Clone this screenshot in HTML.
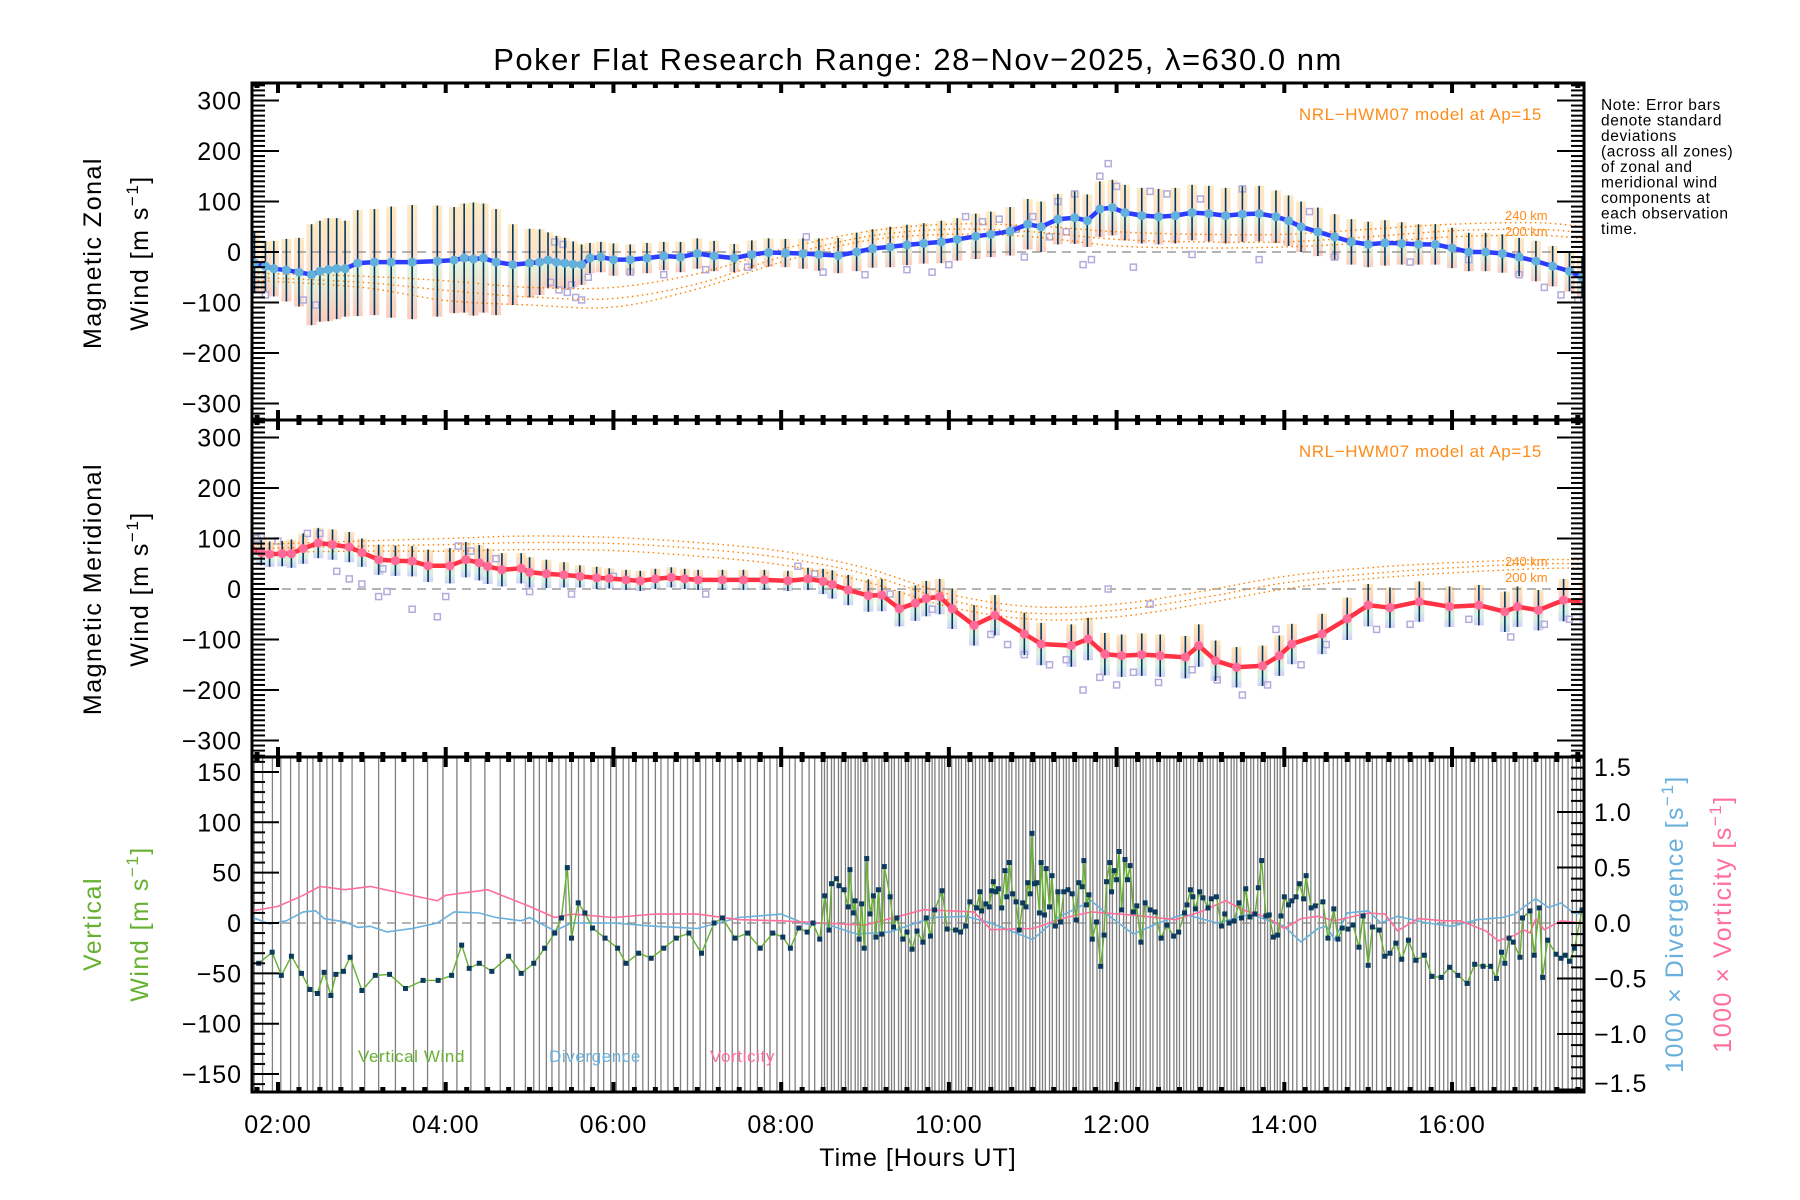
<!DOCTYPE html>
<html><head><meta charset="utf-8"><title>Poker Flat Research Range winds</title>
<style>
html,body{margin:0;padding:0;background:#fff;}
svg{display:block;}
text{font-family:"Liberation Sans",sans-serif;}
</style></head>
<body>
<svg id="chart" xmlns="http://www.w3.org/2000/svg" width="1800" height="1200" viewBox="0 0 1800 1200">
<defs>
<clipPath id="c1"><rect x="252" y="83" width="1332" height="337"/></clipPath>
<clipPath id="c2"><rect x="252" y="420" width="1332" height="337"/></clipPath>
<clipPath id="c3"><rect x="252" y="757" width="1332" height="335"/></clipPath>
<linearGradient id="g1" x1="0" y1="0" x2="0" y2="1"><stop offset="0" stop-color="#fde7b6"/><stop offset="0.45" stop-color="#fcd9c4"/><stop offset="0.55" stop-color="#dff2d6"/><stop offset="1" stop-color="#fbc2b2"/></linearGradient>
<linearGradient id="g2" x1="0" y1="0" x2="0" y2="1"><stop offset="0" stop-color="#fde4b0"/><stop offset="0.4" stop-color="#fbc7b8"/><stop offset="0.72" stop-color="#d2f0dc"/><stop offset="1" stop-color="#c9c8f4"/></linearGradient>
</defs>
<rect x="0" y="0" width="1800" height="1200" fill="#fff"/>
<text x="918" y="70" font-size="31" letter-spacing="1.5" text-anchor="middle">Poker Flat Research Range: 28−Nov−2025, λ=630.0 nm</text>
<g id="layer"></g>
<text x="1542" y="120" font-size="17" fill="#ff8c1a" letter-spacing="0.6" text-anchor="end">NRL−HWM07 model at Ap=15</text>
<text x="1542" y="457" font-size="17" fill="#ff8c1a" letter-spacing="0.6" text-anchor="end">NRL−HWM07 model at Ap=15</text>
<text x="1505" y="220" font-size="13" fill="#ff8c1a">240 km</text>
<text x="1505" y="236" font-size="13" fill="#ff8c1a">200 km</text>
<text x="1505" y="566" font-size="13" fill="#ff8c1a">240 km</text>
<text x="1505" y="582" font-size="13" fill="#ff8c1a">200 km</text>
<g font-size="15.5" letter-spacing="0.6">
<text x="1601" y="110">Note: Error bars</text>
<text x="1601" y="125.5">denote standard</text>
<text x="1601" y="141">deviations</text>
<text x="1601" y="156.5">(across all zones)</text>
<text x="1601" y="172">of zonal and</text>
<text x="1601" y="187.5">meridional wind</text>
<text x="1601" y="203">components at</text>
<text x="1601" y="218.5">each observation</text>
<text x="1601" y="234">time.</text>
</g>
<text transform="translate(101,253) rotate(-90)" font-size="25" letter-spacing="1.5" text-anchor="middle">Magnetic Zonal</text>
<text transform="translate(148,253) rotate(-90)" font-size="25" letter-spacing="1.5" text-anchor="middle">Wind [m s<tspan dy="-10" font-size="17">−1</tspan><tspan dy="10">]</tspan></text>
<text transform="translate(101,589) rotate(-90)" font-size="25" letter-spacing="1.5" text-anchor="middle">Magnetic Meridional</text>
<text transform="translate(148,589) rotate(-90)" font-size="25" letter-spacing="1.5" text-anchor="middle">Wind [m s<tspan dy="-10" font-size="17">−1</tspan><tspan dy="10">]</tspan></text>
<text transform="translate(101,924) rotate(-90)" font-size="25" letter-spacing="1.5" fill="#66b032" text-anchor="middle">Vertical</text>
<text transform="translate(148,924) rotate(-90)" font-size="25" letter-spacing="1.5" fill="#66b032" text-anchor="middle">Wind [m s<tspan dy="-10" font-size="17">−1</tspan><tspan dy="10">]</tspan></text>
<text transform="translate(1683,924) rotate(-90)" font-size="25" letter-spacing="1.5" fill="#6ab0dc" text-anchor="middle">1000 × Divergence [s<tspan dy="-10" font-size="17">−1</tspan><tspan dy="10">]</tspan></text>
<text transform="translate(1731,924) rotate(-90)" font-size="25" letter-spacing="1.5" fill="#ff6f9a" text-anchor="middle">1000 × Vorticity [s<tspan dy="-10" font-size="17">−1</tspan><tspan dy="10">]</tspan></text>
<text x="358" y="1062" font-size="17" letter-spacing="0.6" fill="#66b032">Vertical Wind</text>
<text x="549" y="1062" font-size="17" letter-spacing="0.6" fill="#6ab0dc">Divergence</text>
<text x="710" y="1062" font-size="17" letter-spacing="0.6" fill="#ff6f9a">Vorticity</text>
<text x="918" y="1166" font-size="25" letter-spacing="1" text-anchor="middle">Time [Hours UT]</text>
</svg>
<script>
// ---------- data ----------
const obsMinutes = [103,109,116,122,129,135,141,145,150,155,159,165,173,182,192,204,217,227,238,248,258,268,279,289,297,
303,307,312,316,321,326,330,335,339,344,349,353,358,362,367,371,376,381,385,390,394,399,403,408,413,417,422,426,431,436,440,445,449,454,458,463,468,472,477,481,486,490,495,500,504,509,
511,513,516,518,521,523,526,528,530,533,535,537,540,542,545,547,550,552,554,557,559,561,564,566,569,571,573,576,578,581,583,586,588,590,593,595,597,600,602,605,607,609,612,614,617,619,622,624,626,629,631,633,636,638,641,643,645,648,650,653,655,658,660,662,665,667,669,672,674,677,679,682,684,686,689,691,693,696,698,701,703,706,708,710,713,715,717,720,722,725,727,730,732,734,737,739,741,744,746,749,751,754,756,758,761,763,765,768,770,773,775,778,780,782,785,787,789,792,794,797,799,802,804,806,809,811,813,816,818,821,823,826,828,830,833,835,837,840,
843,846,849,853,856,859,862,865,868,872,875,878,881,884,887,891,894,897,900,903,906,910,913,916,919,922,925,929,932,935,938,941,944,948,951,954,957,960,963,967,970,973,976,979,982,986,989,992,995,998,1001,1005,1008,1011,1014,1017,1020,1024,1027,1030,1033,1036,1039,1043,1046,1049,1052];

const zonalT = [1.72,1.85,1.95,2.1,2.25,2.4,2.5,2.6,2.7,2.8,2.95,3.15,3.35,3.6,3.9,4.1,4.22,4.33,4.45,4.6,4.8,5.0,5.12,5.22,5.32,5.42,5.52,5.62,5.72,5.85,6.0,6.2,6.4,6.6,6.8,7.0,7.2,7.44,7.65,7.85,8.05,8.26,8.45,8.68,8.9,9.09,9.3,9.5,9.7,9.91,10.1,10.32,10.5,10.73,10.94,11.1,11.3,11.5,11.65,11.8,11.95,12.1,12.3,12.5,12.7,12.9,13.1,13.3,13.5,13.7,13.9,14.05,14.2,14.4,14.6,14.8,15.0,15.2,15.4,15.6,15.8,16.0,16.2,16.4,16.6,16.8,17.0,17.2,17.4,17.55];
const zonalMean = [-22,-28,-33,-36,-40,-45,-38,-35,-33,-33,-22,-20,-20,-20,-18,-16,-12,-14,-12,-20,-25,-22,-20,-16,-20,-22,-24,-25,-12,-10,-15,-15,-12,-8,-10,-3,-8,-12,-5,-1,-2,-3,-5,-7,0,7,10,14,17,20,25,31,35,41,55,50,65,68,62,85,88,78,72,70,72,78,76,72,75,76,70,62,50,40,30,20,15,18,17,15,15,8,0,0,-3,-10,-18,-28,-38,-50];
const zonalErr = [60,50,55,62,68,100,100,102,100,95,105,105,110,113,110,105,108,112,108,105,80,68,65,55,52,50,45,40,30,30,32,30,30,28,30,30,30,28,28,28,28,30,32,35,38,38,40,40,40,42,42,45,45,48,50,50,50,52,52,55,55,55,55,55,55,55,55,55,55,55,52,50,50,48,45,45,45,45,42,40,40,40,38,38,38,38,40,40,40,40];

const meridT = [1.68,1.8,1.9,2.05,2.16,2.3,2.48,2.65,2.85,3.0,3.2,3.4,3.6,3.79,4.05,4.24,4.4,4.5,4.67,4.9,5.0,5.2,5.41,5.6,5.8,5.95,6.15,6.32,6.5,6.69,6.85,7.01,7.3,7.55,7.8,8.08,8.32,8.5,8.61,8.8,9.04,9.2,9.41,9.6,9.73,9.89,10.04,10.3,10.55,10.9,11.1,11.46,11.66,11.86,12.06,12.3,12.52,12.82,12.98,13.18,13.43,13.74,13.94,14.09,14.45,14.75,15.0,15.26,15.61,15.97,16.32,16.63,16.78,17.03,17.33,17.58];
const meridMean = [78,72,69,70,70,80,91,88,83,72,58,56,55,46,46,58,52,45,38,41,33,30,28,25,22,21,18,16,20,23,20,18,18,18,18,16,20,15,9,-2,-13,-12,-39,-28,-19,-15,-39,-72,-52,-89,-109,-112,-99,-129,-132,-130,-132,-135,-112,-142,-155,-152,-132,-109,-89,-59,-32,-37,-25,-35,-32,-45,-35,-42,-22,-25];
const meridErr = [22,25,25,25,28,30,30,30,30,28,30,30,30,32,35,35,35,35,33,30,30,28,25,22,22,20,20,20,20,20,20,20,20,20,20,20,22,25,28,30,32,32,35,35,35,35,40,40,40,42,42,42,42,42,42,42,42,42,42,40,40,40,40,40,40,42,42,40,40,40,40,40,40,40,42,42];

const zonalScatter = [[1.85,-85],[2.3,-95],[2.45,-105],[5.25,-60],[5.35,-75],[5.45,-80],[5.55,-90],[5.62,-95],[5.5,-65],[5.3,20],[5.4,15],[5.7,-50],[6.2,-40],[6.6,-45],[7.1,-35],[7.6,-30],[8.3,30],[8.5,-40],[9.0,-45],[9.5,-35],[10.2,70],[10.4,60],[10.6,65],[10.8,45],[10.9,-10],[11.0,70],[11.3,100],[11.5,115],[11.6,-25],[11.7,-15],[11.8,150],[11.9,175],[12.0,130],[12.2,-30],[12.4,120],[12.6,115],[13.0,105],[13.5,125],[14.3,80],[14.6,-10],[15.5,-20],[16.2,-15],[16.8,-45],[17.1,-70],[17.3,-85],[17.5,-95],[10.0,-25],[9.8,-40],[12.9,-5],[13.7,-15],[11.2,30],[11.4,40]];
const meridScatter = [[1.75,100],[1.8,105],[2.0,95],[2.35,110],[2.5,110],[2.7,35],[2.85,20],[3.0,10],[3.2,-15],[3.3,-5],[3.25,40],[3.6,-40],[3.9,-55],[4.0,-15],[4.15,85],[4.3,75],[4.6,60],[5.0,-5],[5.5,-10],[6.0,25],[7.1,-10],[8.2,45],[8.4,30],[9.3,-10],[9.8,-40],[10.5,-90],[10.7,-110],[10.9,-130],[11.2,-150],[11.4,-140],[11.6,-200],[11.8,-175],[12.0,-190],[12.2,-165],[12.5,-185],[12.9,-160],[13.2,-180],[13.5,-210],[13.8,-190],[14.2,-150],[14.5,-110],[15.1,-80],[15.5,-70],[16.2,-60],[16.7,-95],[17.1,-70],[17.4,-60],[12.4,-30],[13.9,-80],[11.9,0]];

const modelT = [1.7,3,4,5,6,7,8,9,10,11,12,13,14,15,16,17,17.57];
const zonalModelA = [-42,-48,-57,-70,-70,-43,5,40,55,52,40,35,35,45,55,58,50];
const zonalModelB = [-50,-60,-76,-89,-92,-63,-10,30,45,40,25,20,20,30,42,45,38];
const zonalModelC = [-56,-70,-96,-105,-109,-73,-20,22,35,30,12,8,10,18,30,33,27];
const meridModelA = [88,95,100,105,102,92,75,42,-10,-35,-30,-5,25,42,52,58,58];
const meridModelB = [80,85,88,92,90,80,62,30,-22,-48,-42,-18,12,30,42,50,50];
const meridModelC = [72,75,75,78,76,65,48,15,-35,-60,-55,-30,0,20,32,40,42];

const vertT = [1.77,1.93,2.04,2.16,2.28,2.38,2.47,2.55,2.63,2.69,2.78,2.86,3.0,3.16,3.33,3.52,3.73,3.91,4.07,4.19,4.28,4.4,4.55,4.75,4.9,5.05,5.18,5.3,5.38,5.45,5.5,5.58,5.66,5.75,5.9,6.05,6.15,6.3,6.45,6.6,6.75,6.9,7.05,7.2,7.3,7.45,7.6,7.75,7.9,8.02,8.11,8.21,8.31,8.38,8.46,8.52,8.57,8.6,8.66,8.69,8.75,8.8,8.82,8.86,8.88,8.93,8.96,8.99,9.02,9.06,9.1,9.13,9.16,9.2,9.23,9.3,9.34,9.38,9.45,9.5,9.56,9.62,9.69,9.73,9.78,9.83,9.92,9.98,10.08,10.14,10.2,10.25,10.33,10.37,10.39,10.44,10.48,10.51,10.53,10.56,10.59,10.63,10.67,10.69,10.72,10.76,10.8,10.84,10.88,10.92,10.94,10.97,10.99,11.02,11.05,11.08,11.1,11.14,11.16,11.2,11.23,11.27,11.3,11.33,11.37,11.42,11.47,11.52,11.55,11.59,11.61,11.64,11.67,11.71,11.76,11.81,11.85,11.88,11.92,11.94,11.97,12.0,12.03,12.06,12.1,12.13,12.16,12.2,12.24,12.29,12.34,12.4,12.46,12.53,12.6,12.68,12.74,12.81,12.84,12.88,12.91,12.94,12.99,13.03,13.09,13.13,13.19,13.25,13.29,13.34,13.4,13.46,13.49,13.54,13.59,13.65,13.69,13.73,13.78,13.82,13.87,13.92,13.96,14.0,14.05,14.09,14.14,14.18,14.23,14.26,14.32,14.37,14.46,14.52,14.59,14.64,14.69,14.76,14.82,14.89,14.94,15.0,15.05,15.13,15.2,15.26,15.33,15.4,15.48,15.57,15.67,15.76,15.87,15.97,16.07,16.18,16.27,16.37,16.46,16.53,16.59,16.63,16.68,16.73,16.81,16.84,16.93,16.98,17.04,17.08,17.14,17.24,17.3,17.35,17.4,17.46,17.55];
const vertWind = [-40,-29,-52,-33,-50,-66,-70,-49,-72,-51,-48,-34,-67,-52,-51,-65,-57,-57,-52,-22,-45,-40,-48,-33,-50,-40,-25,-10,5,55,-15,20,10,-5,-15,-25,-40,-30,-35,-25,-15,-10,-30,0,5,-15,-10,-25,-10,-14,-25,-5,-9,0,-16,27,-7,39,44,37,33,16,53,10,22,-16,19,-25,64,9,27,-14,33,-11,56,26,-4,5,-16,-9,-26,-8,-19,5,-13,13,32,-6,-7,-9,-3,21,15,31,12,19,16,32,41,31,34,15,52,26,60,29,21,-7,20,16,40,29,89,39,40,10,60,8,54,16,47,-3,31,1,31,33,29,3,40,36,62,18,28,-16,1,-43,-12,41,60,31,52,43,71,13,63,43,57,11,17,-19,20,13,11,-15,-2,-13,-9,10,18,33,26,14,31,25,15,24,26,-3,9,0,2,20,5,34,6,9,35,62,7,8,-14,-12,7,26,18,22,26,39,24,47,15,17,21,-15,14,-16,-5,-6,-2,-24,7,-42,-4,-7,-33,-30,-20,-36,-17,-37,-32,-53,-54,-44,-52,-60,-41,-43,-43,-55,-29,-40,-15,-19,-34,5,12,-32,15,-54,-17,-31,-35,-32,-38,-25,13];

const divT = [1.7,1.9,2.1,2.3,2.45,2.55,2.8,2.95,3.1,3.3,3.6,3.9,4.1,4.4,4.6,4.9,5.0,5.3,5.5,6.0,6.5,7.0,7.5,8.0,8.3,8.5,8.9,9.3,9.8,10.2,10.5,11.0,11.3,11.7,11.9,12.2,12.5,12.8,13.2,13.6,14.0,14.2,14.4,14.5,14.6,14.75,15.0,15.15,15.35,15.7,16.0,16.3,16.6,16.75,16.83,17.0,17.15,17.3,17.45,17.55];
const divVals = [0.05,-0.01,0.02,0.1,0.11,0.04,0.01,-0.04,-0.03,-0.08,-0.05,0.0,0.1,0.09,0.05,0.02,0.05,-0.07,0.0,0.0,-0.03,-0.05,0.05,0.08,-0.01,0.0,-0.1,-0.08,0.05,0.06,0.0,-0.15,0.05,0.2,0.07,-0.1,0.0,0.08,0.0,0.08,-0.03,-0.17,-0.05,-0.03,-0.15,0.09,0.11,0.0,0.06,0.0,-0.03,0.03,0.05,0.08,0.13,0.22,0.14,0.18,0.09,0.08];
const vortT = [1.7,2.0,2.3,2.5,2.8,3.1,3.4,3.9,4.0,4.5,5.0,5.3,5.5,6.0,6.5,7.0,7.5,8.0,8.5,9.0,9.7,10.3,10.5,11.0,11.4,11.7,12.2,12.7,13.0,13.3,13.5,13.8,14.0,14.2,14.4,14.6,15.0,15.2,15.35,15.6,15.9,16.1,16.4,16.55,16.75,16.85,16.93,17.0,17.1,17.3,17.55];
const vortVals = [0.11,0.15,0.25,0.33,0.3,0.33,0.28,0.2,0.25,0.3,0.15,0.05,0.08,0.05,0.08,0.08,0.03,0.02,0.0,-0.02,0.12,0.1,-0.06,-0.05,0.05,0.1,0.07,0.03,0.1,0.2,0.12,0.05,-0.05,0.04,0.06,0.02,0.09,0.08,-0.07,0.04,0.02,0.02,-0.07,-0.16,-0.11,-0.06,-0.09,0.04,-0.06,0.02,0.0];

// ---------- scales ----------
const X = t => 278 + (t - 2) * 83.86;
const Y1 = v => 252 - v * 0.505;
const Y2 = v => 589 - v * 0.505;
const Y3 = v => 923 - v * 1.007;
const Y3r = r => 923 - r * 111;
const NS = 'http://www.w3.org/2000/svg';
const layer = document.getElementById('layer');

function el(tag, attrs, parent) {
  const e = document.createElementNS(NS, tag);
  for (const k in attrs) e.setAttribute(k, attrs[k]);
  (parent || layer).appendChild(e);
  return e;
}
function group(clip) {
  return el('g', clip ? {'clip-path': 'url(#' + clip + ')'} : {});
}
function polyPts(ts, vs, fx, fy) {
  return ts.map((t, i) => fx(t).toFixed(1) + ',' + fy(vs[i]).toFixed(1)).join(' ');
}
function smoothPath(ts, vs, fy) {
  const p = ts.map((t, i) => [X(t), fy(vs[i])]);
  let d = 'M' + p[0][0] + ',' + p[0][1];
  for (let i = 0; i < p.length - 1; i++) {
    const p0 = p[Math.max(0, i - 1)], p1 = p[i], p2 = p[i + 1], p3 = p[Math.min(p.length - 1, i + 2)];
    const c1x = p1[0] + (p2[0] - p0[0]) / 6, c1y = p1[1] + (p2[1] - p0[1]) / 6;
    const c2x = p2[0] - (p3[0] - p1[0]) / 6, c2y = p2[1] - (p3[1] - p1[1]) / 6;
    d += ' C' + c1x.toFixed(1) + ',' + c1y.toFixed(1) + ' ' + c2x.toFixed(1) + ',' + c2y.toFixed(1) + ' ' + p2[0].toFixed(1) + ',' + p2[1].toFixed(1);
  }
  return d;
}

// ---------- wind panels ----------
function windPanel(clip, fy, ts, mean, err, scatter, models, grad, lineCol, dotCol, key) {
  const g = group(clip);
  
  
  ts.forEach((t, i) => {
    const prev = i > 0 ? X(ts[i - 1]) : X(t) - 8;
    const next = i < ts.length - 1 ? X(ts[i + 1]) : X(t) + 8;
    const w = Math.min((next - prev) / 2 + 1, 10);
    const r = el('rect', {x: (X(t) - w / 2).toFixed(1), y: fy(mean[i] + err[i]).toFixed(1), width: w.toFixed(1), height: (fy(mean[i] - err[i]) - fy(mean[i] + err[i])).toFixed(1), fill: 'url(#' + grad + ')', opacity: 0.85}, g);
    
    
  });
  const z = el('line', {x1: 252, x2: 1584, y1: fy(0), y2: fy(0), stroke: '#888', 'stroke-width': 1.3, 'stroke-dasharray': '9 6'}, g);
  
  
  scatter.forEach(p => {
    const s = el('rect', {x: X(p[0]) - 3, y: fy(p[1]) - 3, width: 6, height: 6, fill: '#fff', 'fill-opacity': 0.3, stroke: '#b3abdb', 'stroke-width': 1.5}, g);
    
    
  });
  models.forEach(m => {
    const pth = el('path', {d: smoothPath(modelT, m, fy), fill: 'none', stroke: '#ff8000', 'stroke-width': 1.4, 'stroke-dasharray': '1.5 3.5'}, g);
    
    
  });
  ts.forEach((t, i) => {
    const b = el('line', {x1: X(t), x2: X(t), y1: fy(mean[i] + err[i]), y2: fy(mean[i] - err[i]), stroke: '#00375f', 'stroke-width': 1.6}, g);
    
    
  });
  const ln = el('polyline', {points: polyPts(ts, mean, X, fy), fill: 'none', stroke: lineCol, 'stroke-width': 4.5, 'stroke-linejoin': 'round'}, g);
  
  
  ts.forEach((t, i) => {
    const c = el('circle', {cx: X(t), cy: fy(mean[i]), r: 4.5, fill: dotCol}, g);
    
    
  });
}
windPanel('c1', Y1, zonalT, zonalMean, zonalErr, zonalScatter, [zonalModelA, zonalModelB, zonalModelC], 'g1', '#2e3cff', '#62b0dc', 'zonal');
windPanel('c2', Y2, meridT, meridMean, meridErr, meridScatter, [meridModelA, meridModelB, meridModelC], 'g2', '#ff3344', '#ff6a98', 'meridional');

// ---------- vertical panel ----------
const g3 = group('c3');


obsMinutes.forEach(m => {
  const l = el('line', {x1: X(m / 60), x2: X(m / 60), y1: 757, y2: 1092, stroke: '#7f7f7f', 'stroke-width': 1.3}, g3);
  
  
});
const z3 = el('line', {x1: 252, x2: 1584, y1: Y3(0), y2: Y3(0), stroke: '#888', 'stroke-width': 1.3, 'stroke-dasharray': '9 6'}, g3);


const dl = el('polyline', {points: polyPts(divT, divVals, X, Y3r), fill: 'none', stroke: '#6ab0dc', 'stroke-width': 1.6}, g3);


const vl = el('polyline', {points: polyPts(vortT, vortVals, X, Y3r), fill: 'none', stroke: '#ff6f9a', 'stroke-width': 1.6}, g3);


const wl = el('polyline', {points: polyPts(vertT, vertWind, X, Y3), fill: 'none', stroke: '#66b032', 'stroke-width': 1.4}, g3);


vertT.forEach((t, i) => {
  const p = el('rect', {x: X(t) - 2.5, y: Y3(vertWind[i]) - 2.5, width: 5, height: 5, fill: '#0b3a5e'}, g3);
  
  
});

// ---------- axes ----------
const axes = el('g', {});


function tick(x1, y1, x2, y2, w, name) {
  const l = el('line', {x1, y1, x2, y2, stroke: '#000', 'stroke-width': w}, axes);
  
  
}
function label(x, y, txt, anchor, size, name) {
  const t = el('text', {x, y, 'font-size': size, 'text-anchor': anchor, 'letter-spacing': 1}, axes);
  t.textContent = txt;
  
  
}
const panels = [{top: 83, bot: 420, fy: Y1}, {top: 420, bot: 757, fy: Y2}, {top: 757, bot: 1092, fy: Y3}];
[0, 1].forEach(pi => {
  const P = panels[pi];
  for (let v = -330; v <= 330; v += 10) {
    const y = P.fy(v);
    if (y < P.top + 1 || y > P.bot - 1) continue;
    const major = v % 100 === 0;
    const len = major ? 27 : 13;
    tick(252, y, 252 + len, y, 2, 'y-tick');
    tick(1584, y, 1584 - len, y, 2, 'y-tick-right');
    if (major) label(242, y + 9, v < 0 ? '−' + Math.abs(v) : String(v), 'end', 25, 'y-tick-label');
  }
});
for (let v = -160; v <= 160; v += 10) {
  const y = Y3(v);
  if (y < 758 || y > 1091) continue;
  const major = v % 50 === 0;
  tick(252, y, 252 + (major ? 27 : 13), y, 2, 'y-tick');
  if (major && Math.abs(v) <= 150) label(242, y + 9, v < 0 ? '−' + Math.abs(v) : String(v), 'end', 25, 'y-tick-label');
}
for (let k = -15; k <= 15; k++) {
  const y = Y3r(k / 10);
  if (y < 757.5 || y > 1091.5) continue;
  const major = k % 5 === 0;
  tick(1584, y, 1584 - (major ? 27 : 13), y, 2, 'y-tick-right');
}
for (let k = -3; k <= 3; k++) {
  const r = k * 0.5;
  const y = Math.min(Math.max(Y3r(r), 767), 1083);
  label(1594, y + 9, (r < 0 ? '−' : '') + Math.abs(r).toFixed(1), 'start', 25, 'right-tick-label');
}
[83, 420, 757, 1092].forEach((yb, bi) => {
  for (let q = 7; q <= 70; q++) {
    const x = X(q / 4);
    if (x < 253 || x > 1583) continue;
    const major = q % 8 === 0;
    const w = major ? 4 : 5;
    const len = major ? 10 : 5;
    if (bi < 3) tick(x, yb, x, yb + len, w, 'x-tick');
    if (bi > 0) tick(x, yb, x, yb - len, w, 'x-tick');
  }
});
for (let h = 2; h <= 16; h += 2) {
  label(X(h), 1133, (h < 10 ? '0' : '') + h + ':00', 'middle', 25, 'x-tick-label');
}
panels.forEach(P => {
  const r = el('rect', {x: 252, y: P.top, width: 1332, height: P.bot - P.top, fill: 'none', stroke: '#000', 'stroke-width': 3}, axes);
  
  
});
</script>
</body></html>
